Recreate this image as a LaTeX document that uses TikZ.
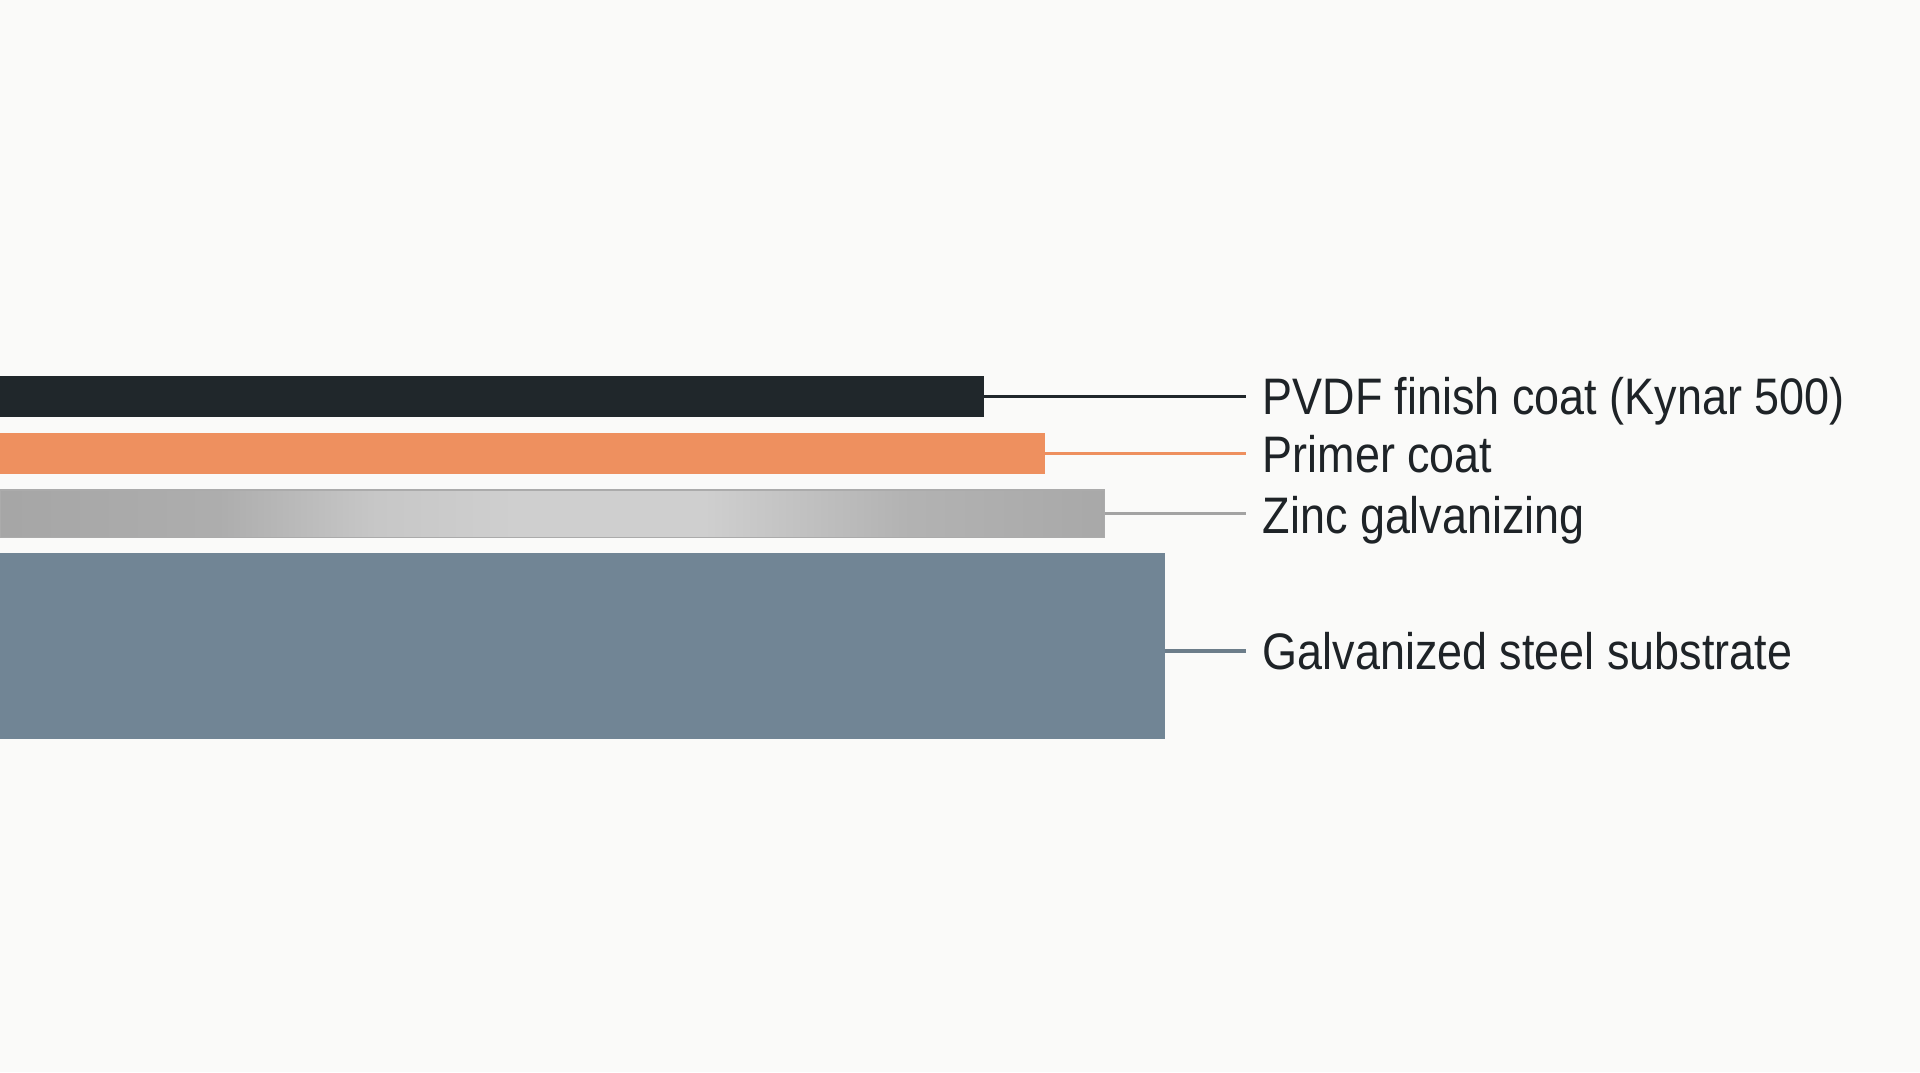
\documentclass[tikz,border=0pt]{standalone}
\usepackage{fontspec}
\setmainfont[FakeStretch=0.875]{Liberation Sans}
\usetikzlibrary{calc}
\definecolor{bg}{HTML}{FAFAF9}
\definecolor{ink}{HTML}{1E2327}
\definecolor{pvdfc}{HTML}{20272B}
\definecolor{primerc}{HTML}{EE905F}
\definecolor{zincline}{HTML}{A3A3A3}
\definecolor{subc}{HTML}{718595}
\definecolor{subline}{HTML}{6C7D8A}
\pgfdeclarehorizontalshading{zinc}{100bp}{%
  color(0bp)=(black!35); color(25bp)=(black!35);
  color(35bp)=(black!32); color(42bp)=(black!22);
  color(48bp)=(black!19); color(57bp)=(black!19);
  color(66bp)=(black!30); color(75bp)=(black!34); color(100bp)=(black!34)}
\tikzset{
  layer/.style={anchor=north west, inner sep=0pt, outer sep=0pt, draw=none},
  lbl/.style={anchor=west, inner xsep=0.16cm, inner ysep=0pt, text height=10.45pt,
    text depth=0pt, font=\fontsize{14.6pt}{16pt}\selectfont, text=ink},
  conn/.style={line width=0.9pt}
}
\begin{document}
\begin{tikzpicture}[x=0.01cm,y=-0.01cm]
\fill[bg] (0,0) rectangle (1920,1072);
\useasboundingbox (0,0) rectangle (1920,1072);
% layers
\node[layer, fill=pvdfc, minimum width=9.83cm, minimum height=0.41cm] (pvdf) at (0,376) {};
\node[layer, fill=primerc, minimum width=10.44cm, minimum height=0.41cm] (primer) at (0,433) {};
\node[layer, shading=zinc, draw=black!33, line width=0.3pt, minimum width=11.04cm, minimum height=0.47cm] (zinc) at (0,490) {};
\node[layer, fill=subc, minimum width=11.64cm, minimum height=1.86cm] (sub) at (0,553) {};
% labels
\node[lbl] (lpvdf) at (1246,396) {PVDF finish coat (Kynar 500)};
\node[lbl] (lprimer) at (1246,454) {Primer coat};
\node[lbl] (lzinc) at (1246,515) {Zinc galvanizing};
\node[lbl] (lsub) at (1246,651) {Galvanized steel substrate};
% connectors
\draw[conn, pvdfc] (pvdf.east) -- (pvdf.east -| lpvdf.west);
\draw[conn, primerc] (primer.east) -- (primer.east -| lprimer.west);
\draw[conn, zincline] (zinc.east) -- (zinc.east -| lzinc.west);
\draw[conn, subline, line width=1.1pt] (lsub.west -| sub.east) -- (lsub.west);
\end{tikzpicture}
\end{document}
